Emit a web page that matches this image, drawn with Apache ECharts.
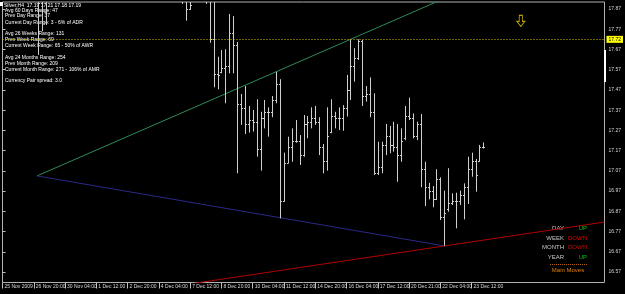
<!DOCTYPE html>
<html><head><meta charset="utf-8">
<script src="https://cdn.jsdelivr.net/npm/echarts@6/dist/echarts.min.js"></script>
<style>html,body{margin:0;padding:0;background:#000;}#c{width:625px;height:294px;}</style>
</head><body><div id="c"></div>
<script>
// ---- data ----
const tickIndex = [0,8,16,24,32,40,48,56,64,72,80,88,96,104,112,120];
const tickLabels = ['25 Nov 2009','26 Nov 20:00','30 Nov 04:00','1 Dec 12:00','2 Dec 20:00','4 Dec 04:00','7 Dec 12:00','8 Dec 20:00','10 Dec 04:00','11 Dec 12:00','14 Dec 20:00','16 Dec 04:00','17 Dec 12:00','20 Dec 21:00','22 Dec 04:00','23 Dec 12:00'];
const priceTicks = [16.57,16.67,16.77,16.87,16.97,17.07,17.17,17.27,17.37,17.47,17.57,17.67,17.77,17.87];

const barIndex = [9,10,11,46,47,48,52,53,54,55,56,57,58,59,60,61,62,63,64,65,66,67,68,69,70,71,72,73,74,75,76,77,78,79,80,81,82,83,84,85,86,87,88,89,90,91,92,93,94,95,96,97,98,99,100,101,102,103,104,105,106,107,108,109,110,111,112,113,114,115,116,117,118,119,120,121,122,123];
const opens  = [18.30,17.90,17.95,17.98,17.93,17.87,17.95,17.92,17.72,17.55,17.56,17.58,17.59,17.75,17.69,17.40,17.38,17.30,17.32,17.31,17.18,17.33,17.36,17.36,17.42,17.50,16.92,17.11,17.19,17.22,17.22,17.15,17.30,17.31,17.33,17.31,17.19,17.12,17.26,17.34,17.33,17.33,17.38,17.47,17.59,17.63,17.71,17.44,17.45,17.36,17.06,17.09,17.20,17.24,17.20,17.19,17.15,17.23,17.34,17.33,17.24,17.30,17.08,16.99,16.97,16.93,17.03,16.84,16.88,16.91,16.92,16.92,16.95,16.99,17.08,17.12,17.12,17.19];
const highs  = [18.40,18.10,18.15,18.05,17.99,17.98,18.02,17.98,17.905,17.634,17.667,17.671,17.845,17.835,17.707,17.450,17.489,17.391,17.371,17.424,17.362,17.420,17.384,17.440,17.560,17.523,17.160,17.239,17.280,17.321,17.247,17.346,17.341,17.384,17.391,17.335,17.203,17.384,17.424,17.362,17.384,17.395,17.544,17.720,17.676,17.720,17.717,17.489,17.532,17.453,17.214,17.214,17.302,17.292,17.313,17.302,17.280,17.391,17.432,17.354,17.313,17.351,17.115,17.011,16.995,17.078,17.038,16.972,17.083,16.959,16.962,16.972,17.008,17.140,17.160,17.129,17.198,17.21];
const lows   = [17.643,17.760,17.791,17.895,17.812,17.865,17.895,17.703,17.483,17.473,17.552,17.404,17.552,17.552,17.058,17.297,17.252,17.259,17.264,17.140,17.071,17.280,17.239,17.335,17.404,16.835,16.917,17.107,17.115,17.209,17.099,17.140,17.231,17.280,17.297,17.148,17.058,17.071,17.256,17.280,17.272,17.268,17.338,17.420,17.511,17.618,17.391,17.412,17.335,17.050,17.050,17.058,17.148,17.157,17.165,17.016,17.115,17.222,17.321,17.231,17.222,16.989,16.896,16.929,16.890,16.926,16.827,16.699,16.868,16.901,16.786,16.901,16.830,16.906,17.041,16.967,17.115,17.18];
const closes = [17.90,17.95,18.05,17.93,17.87,17.89,17.92,17.72,17.55,17.545,17.58,17.59,17.75,17.69,17.40,17.38,17.30,17.32,17.31,17.18,17.33,17.36,17.36,17.42,17.50,16.92,17.11,17.19,17.22,17.22,17.15,17.30,17.31,17.33,17.31,17.19,17.12,17.24,17.34,17.33,17.33,17.38,17.47,17.59,17.63,17.71,17.44,17.45,17.36,17.06,17.09,17.20,17.24,17.20,17.19,17.15,17.22,17.34,17.33,17.24,17.30,17.08,16.99,16.97,16.93,17.03,16.84,16.86,16.91,16.92,16.92,16.95,16.99,17.08,17.12,17.05,17.19,17.19];

const greenLine = [[8.83,17.045],[130,18.065]];
const blueLine  = [[8.83,17.045],[113,16.699]];
const redLine   = [[48,16.511],[154,16.817]];
const levelPrice = 17.724;
const levelText = '17.72';
const bidPrice = 17.19;
const arrowPoint = [[132.6,17.811]];

const infoLines = [
  ['Silver,H4  17.19 17.21 17.18 17.19', 6],
  ['Avg 60 Days Range: 47', 11],
  ['Prev Day Range: 37', 16],
  ['Current Day Range: 3 - 6% of ADR', 23],
  ['Avg 26 Weeks Range: 131', 34],
  ['Prev Week Range: 69', 40],
  ['Current Week Range: 65 - 50% of AWR', 46],
  ['Avg 24 Months Range: 254', 58],
  ['Prev Month Range: 209', 64],
  ['Current Month Range: 271 - 106% of AMR', 70],
  ['Currency Pair spread: 3.0', 81]
];
const moveNames = ['DAY','WEEK','MONTH','YEAR'];
const moveValues = ['UP','DOWN','DOWN','UP'];

// ---- chart ----
const chart = echarts.init(document.getElementById('c'), null, {renderer:'canvas'});
const ohlc = barIndex.map((x,k)=>[x, opens[k], highs[k], lows[k], closes[k]]);
const FONT = 'Liberation Sans';
const barColor = '#cfcfcf';

const graphics = [
  {type:'rect', shape:{x:0,y:2,width:3,height:4}, style:{fill:'#ffffff'}},
  {type:'rect', shape:{x:604,y:50,width:2,height:32}, style:{fill:'#ffffff'}}
];
infoLines.forEach(([t,y],k)=>{
  graphics.push({type:'text', x: k===0?4:5, y:y, style:{text:t, fill:'#ffffff', font:'5px "'+FONT+'"', textVerticalAlign:'middle'}});
});
const moveYs = [228,238,247,257];
moveNames.forEach((n,k)=>{
  graphics.push({type:'text', x:564, y:moveYs[k], style:{text:n, fill:'#c8c8c8', font:'6px "'+FONT+'"', textAlign:'right', textVerticalAlign:'middle'}});
  graphics.push({type:'text', x:587, y:moveYs[k], style:{text:moveValues[k], fill: moveValues[k]==='UP' ? '#10c010' : '#e00000', font:'6px "'+FONT+'"', textAlign:'right', textVerticalAlign:'middle'}});
});
graphics.push({type:'line', shape:{x1:550,y1:264.5,x2:587,y2:264.5}, style:{stroke:'#b06010', lineWidth:1, lineDash:[1,1]}});
graphics.push({type:'text', x:568, y:270, style:{text:'Main Moves', fill:'#e08000', font:'6px "'+FONT+'"', textAlign:'center', textVerticalAlign:'middle'}});

const option = {
  backgroundColor:'#000000',
  animation:false,
  grid:{left:2.5, right:20.5, top:2, bottom:11.5, show:true, borderColor:'#b0b0b0', borderWidth:1, backgroundColor:'#000000'},
  xAxis:{type:'value', min:0, max:154, splitLine:{show:false}, axisLine:{show:false},
    axisTick:{show:true, customValues:tickIndex, length:6, lineStyle:{color:'#c0c0c0'}},
    axisLabel:{customValues:tickIndex, formatter:v=>tickLabels[tickIndex.indexOf(v)]||'', color:'#d8d8d8', fontSize:5, fontFamily:FONT, align:'left', margin:2, padding:[0,0,0,2]}},
  yAxis:{type:'value', position:'right', min:16.5181, max:17.9046, scale:true, splitLine:{show:false}, axisLine:{show:false},
    axisTick:{show:true, customValues:priceTicks, length:3, lineStyle:{color:'#c0c0c0'}},
    axisLabel:{customValues:priceTicks, formatter:v=>v.toFixed(2), color:'#d8d8d8', fontSize:5, fontFamily:FONT, margin:4}},
  graphic: graphics,
  series:[
    {type:'line', data:greenLine, symbol:'none', lineStyle:{color:'#2e8b57', width:1}, silent:true, clip:true, z:1},
    {type:'line', data:blueLine, symbol:'none', lineStyle:{color:'#2a2a8a', width:1}, silent:true, clip:true, z:1},
    {type:'line', data:redLine, symbol:'none', lineStyle:{color:'#b00000', width:1}, silent:true, clip:true, z:1},
    {type:'custom', data:ohlc, clip:true, z:3,
      renderItem:(params, api)=>{
        const x = api.value(0);
        const pH = api.coord([x, api.value(2)]);
        const pL = api.coord([x, api.value(3)]);
        const pO = api.coord([x, api.value(1)]);
        const pC = api.coord([x, api.value(4)]);
        const X = Math.round(pH[0]) + 0.5;
        const st = {stroke:barColor, lineWidth:1};
        return {type:'group', children:[
          {type:'line', shape:{x1:X,y1:pH[1],x2:X,y2:pL[1]}, style:st},
          {type:'line', shape:{x1:X-1.5,y1:Math.round(pO[1])+0.5,x2:X,y2:Math.round(pO[1])+0.5}, style:st},
          {type:'line', shape:{x1:X,y1:Math.round(pC[1])+0.5,x2:X+1.5,y2:Math.round(pC[1])+0.5}, style:st}
        ]};
      },
      markLine:{symbol:'none', silent:true, animation:false,
        data:[
          {yAxis:levelPrice, lineStyle:{color:'#d8c400', type:[1,2], width:1},
           label:{show:true, position:'end', formatter:levelText, backgroundColor:'#ffff00', color:'#000', fontSize:5, fontFamily:FONT, padding:[1,2], distance:2}},
          {yAxis:bidPrice, lineStyle:{opacity:0},
           label:{show:true, position:'end', formatter:bidPrice.toFixed(2), backgroundColor:'#ffffff', color:'#000', fontSize:5, fontFamily:FONT, padding:[1,2], distance:2}}
        ]}
    },
    {type:'scatter', data:arrowPoint, symbol:'path://M3,0 L7,0 L7,6 L10,6 L5,11 L0,6 L3,6 Z', symbolSize:[8,11],
      itemStyle:{color:'rgba(0,0,0,0)', borderColor:'#e8c800', borderWidth:1}, silent:true, z:4}
  ]
};
chart.setOption(option);
</script></body></html>
